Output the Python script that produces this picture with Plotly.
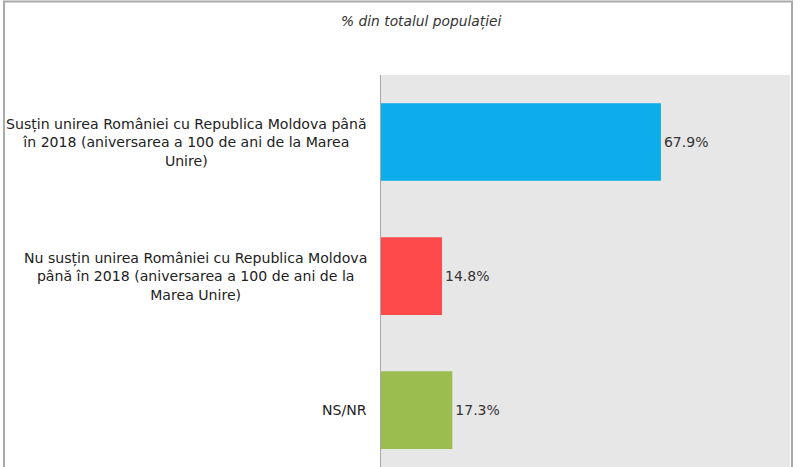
import plotly.graph_objects as go

# Data
categories = [
    "Susțin unirea României cu Republica Moldova până<br>în 2018 (aniversarea a 100 de ani de la Marea<br>Unire)",
    "Nu susțin unirea României cu Republica Moldova<br>până în 2018 (aniversarea a 100 de ani de la<br>Marea Unire)",
    "NS/NR",
]
values = [67.9, 14.8, 17.3]
colors = ["#0BADEA", "#FE4A4B", "#9BBD4F"]
title_text = "% din totalul populației"

FONT = "DejaVu Sans"

fig = go.Figure()

fig.add_trace(
    go.Bar(
        x=values,
        y=list(range(len(values))),
        orientation="h",
        marker=dict(color=colors, line=dict(width=0)),
        width=0.58,
        text=[f"{v:.1f}%" for v in values],
        textposition="outside",
        textfont=dict(family=FONT, size=14, color="#333333"),
        cliponaxis=False,
        showlegend=False,
        hoverinfo="skip",
    )
)

# Category labels, centered multi-line text to the left of the axis
for i, label in enumerate(categories):
    fig.add_annotation(
        x=-0.03,
        xref="paper",
        y=i,
        yref="y",
        text=label,
        showarrow=False,
        xanchor="right",
        yanchor="middle",
        align="center",
        font=dict(family=FONT, size=14.1, color="#222222"),
    )

# Title
fig.add_annotation(
    x=(421 - 381) / 409,
    xref="paper",
    y=1 + (75 - 21) / 392,
    yref="paper",
    text="<i>" + title_text + "</i>",
    showarrow=False,
    xanchor="center",
    yanchor="middle",
    font=dict(family=FONT, size=13.8, color="#333333"),
)

# Outer frame
fig.add_shape(
    type="rect",
    xref="paper",
    yref="paper",
    x0=(4 - 381) / 409,
    x1=(792 - 381) / 409,
    y0=-0.2,
    y1=1 + (75 - 1.5) / 392,
    line=dict(color="#AAAAAA", width=2),
    fillcolor="rgba(0,0,0,0)",
    layer="above",
)

fig.update_layout(
    width=800,
    height=467,
    margin=dict(l=381, r=10, t=75, b=0),
    paper_bgcolor="white",
    plot_bgcolor="#E7E7E7",
    bargap=0.42,
)

fig.update_xaxes(
    range=[0, 99.2],
    showgrid=False,
    zeroline=False,
    showticklabels=False,
    ticks="",
)
fig.update_yaxes(
    range=[2.425, -0.5],
    showgrid=False,
    zeroline=False,
    showticklabels=False,
    ticks="",
    showline=True,
    linecolor="#A8A8A8",
    linewidth=1,
)

fig.write_html(
    "out.html",
    config={"displayModeBar": False},
    post_script="document.body.style.margin='0';",
)
